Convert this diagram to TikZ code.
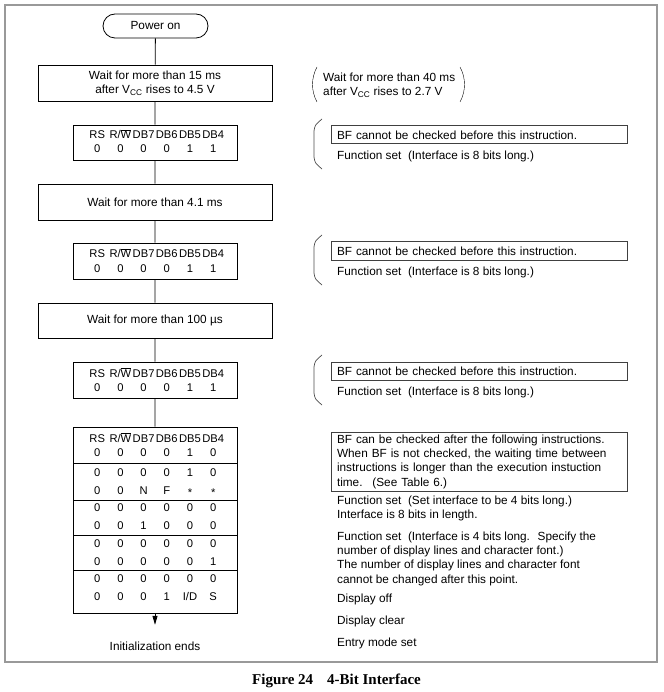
\documentclass[tikz,border=0pt]{standalone}
\usepackage{fontspec}
\setmainfont{Liberation Sans}
\newfontfamily\capfont{Liberation Serif}
\usetikzlibrary{arrows.meta}

% one row of six bit cells: name, y, entries
\newcommand{\bitrow}[3]{%
  \foreach \b [count=\i] in {#3}
    \node[bit] (#1c\i) at ({74+23.2*\i},#2) {\b};}

\begin{document}
\begin{tikzpicture}[x=1pt,y=-1pt,
    font=\fontsize{11.8}{14.3}\selectfont,
    every node/.style={inner sep=0pt},
    box/.style={draw,line width=0.8pt,minimum height=36pt},
    bit/.style={font=\fontsize{11.2}{13}\selectfont,text height=8.2pt,text depth=2.2pt},
    note/.style={draw=black!75,line width=1pt,minimum width=296pt,text width=284pt,align=left},
    brk/.style={line width=0.7pt,black!70},
    link/.style={line width=0.8pt}]
            \useasboundingbox (0,0) rectangle (663,692);
            %outer frame
            \draw[black!40,line width=1.2pt] (5,5) rectangle (657,662);
            %left column of the flow
            \node[box,rounded corners=12pt,minimum width=105pt,minimum height=24pt] (pwr) at (155.5,26) {Power on};
            \node[box,minimum width=234pt,align=center] (w15) at (155,83) {Wait for more than 15 ms\\after V\textsubscript{CC} rises to 4.5 V};
            \node[box,minimum width=164pt,minimum height=35pt] (rs1) at (155,142.5) {};
            \node[box,minimum width=234pt] (w41) at (155,202) {Wait for more than 4.1 ms};
            \node[box,minimum width=164pt,minimum height=36pt] (rs2) at (155,261) {};
            \node[box,minimum width=234pt,minimum height=35pt] (w100) at (155,320.5) {Wait for more than 100 µs};
            \node[box,minimum width=164pt,minimum height=36pt] (rs3) at (155,380) {};
            \node[box,minimum width=164pt,minimum height=186pt] (tbl) at (155,520) {};
            \node[minimum height=42pt] (ends) at (155,646) {Initialization ends};
            \draw[link] (pwr) -- (w15) -- (rs1) -- (w41) -- (rs2) -- (w100) -- (rs3) -- (tbl);
            \draw[link,-{Triangle[length=9pt,width=5pt]}] (tbl) -- (ends);
            %bit tables
            \bitrow{ha}{136}{RS,R/$\overline{\mbox{W}}$,DB7,DB6,DB5,DB4}
            \bitrow{va}{150}{0,0,0,0,1,1}
            \bitrow{hb}{255}{RS,R/$\overline{\mbox{W}}$,DB7,DB6,DB5,DB4}
            \bitrow{vb}{269}{0,0,0,0,1,1}
            \bitrow{hc}{374}{RS,R/$\overline{\mbox{W}}$,DB7,DB6,DB5,DB4}
            \bitrow{vc}{388}{0,0,0,0,1,1}
            \bitrow{hd}{439}{RS,R/$\overline{\mbox{W}}$,DB7,DB6,DB5,DB4}
            \bitrow{vd}{453}{0,0,0,0,1,0}
            \bitrow{ve}{473}{0,0,0,0,1,0}
            \bitrow{vf}{491}{0,0,N,F,\raisebox{-2pt}{*},\raisebox{-2pt}{*}}
            \bitrow{vg}{508}{0,0,0,0,0,0}
            \bitrow{vh}{526}{0,0,1,0,0,0}
            \bitrow{vi}{544}{0,0,0,0,0,0}
            \bitrow{vj}{562}{0,0,0,0,0,1}
            \bitrow{vk}{579}{0,0,0,0,0,0}
            \bitrow{vl}{597}{0,0,0,1,I/D,S}
            \foreach \s in {463,500,535,570}
            \draw[link] (73,\s) -- (237,\s);
            %right column of remarks
            \draw (317,67) .. controls (311,78) and (311,91) .. (317,102);
            \draw (460,67) .. controls (466,78) and (466,91) .. (460,102);
            \node[anchor=west,align=left] (w40) at (323,85) {Wait for more than 40 ms\\after V\textsubscript{CC} rises to 2.7 V};
            \foreach \t in {119,235,355}
            {
            \draw[brk] (322,\t) .. controls (315,\t+6) .. (314,\t+12) -- (314,\t+38) .. controls (315,\t+44) .. (322,\t+50);
            \node[note,minimum height=18pt] (bf\t) at (479,\t+16) {BF cannot be checked before this instruction.};
            \node[anchor=west] (fs\t) at (337,\t+37) {Function set~ (Interface is 8 bits long.)};
            }
            \node[note,minimum height=59pt] (bfa) at (479,461.5) {BF can be checked after the following instructions.\\When BF is not checked, the waiting time between\\instructions is longer than the execution instuction\\time.~ (See Table 6.)};
            \node[anchor=west,align=left] (fsa) at (337,508.5) {Function set~ (Set interface to be 4 bits long.)\\Interface is 8 bits in length.};
            \node[anchor=west,align=left] (fsb) at (337,558.7) {Function set~ (Interface is 4 bits long.~ Specify the\\number of display lines and character font.)\\The number of display lines and character font\\cannot be changed after this point.};
            \node[anchor=west] (doff) at (337,599) {Display off};
            \node[anchor=west] (dclr) at (337,621) {Display clear};
            \node[anchor=west] (emod) at (337,643) {Entry mode set};
            %caption
            \node[anchor=west,font=\capfont\bfseries\fontsize{15}{17}\selectfont] (cap) at (252,681) {Figure 24\hspace{14pt}4-Bit Interface};
\end{tikzpicture}
\end{document}
